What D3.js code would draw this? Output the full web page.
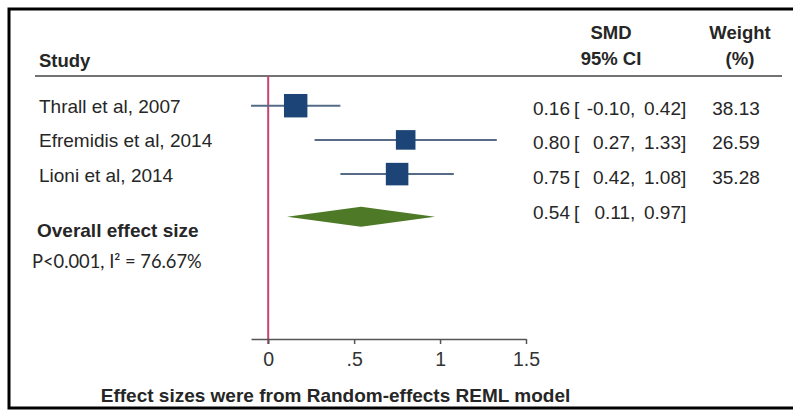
<html>
<head>
<meta charset="utf-8">
<script src="https://d3js.org/d3.v7.min.js"></script>
<style>
    body { margin: 0; background: #fff; }
    text { font-family: "Liberation Sans", Arial, sans-serif; fill: #262626; }
    .hdr { font-weight: bold; font-size: 18.5px; }
    .lab { font-size: 19px; }
    .ci { fill: none; stroke: #566c86; stroke-width: 2px; }
    .box { fill: #1d4476; }
    .diamond { fill: #4e7a27; }
    .nullline { stroke: #c8466e; stroke-width: 2px; }
    .axis path, .axis line { stroke: #555; stroke-width: 1.5px; }
    .axis text { font-family: "Liberation Sans", Arial, sans-serif; font-size: 19.5px; fill: #333; }
</style>
</head>
<body>
<svg width=793 height=413></svg>
<script>
    // data
    let studies = ['Thrall et al, 2007', 'Efremidis et al, 2014', 'Lioni et al, 2014'];
    let smd     = [0.16, 0.80, 0.75];
    let lower   = [-0.10, 0.27, 0.42];
    let upper   = [0.42, 1.33, 1.08];
    let weight  = [38.13, 26.59, 35.28];
    let overallSmd = 0.54, overallLower = 0.11, overallUpper = 0.97;
    let xTicks = [0, 0.5, 1, 1.5];
    let xTickLabels = ['0', '.5', '1', '1.5'];

    let svg = d3.select('svg');

    let x = d3.scaleLinear().domain([-0.1, 1.5]).range([251, 526]);
    let y = d3.scaleLinear().domain([0, 1]).range([105.7, 139.9]);
    let side = d3.scaleSqrt().domain([0, 40]).range([0, 24]);
    let overallRow = 3.25;
    let f2 = d => d3.format('.2f')(d).replace('\u2212', '-');

    // frame
    svg.append('rect')
        .attr('x', 9).attr('y', 9)
        .attr('width', 800).attr('height', 399)
        .attr('fill', 'none').attr('stroke', '#000').attr('stroke-width', 3);

    // headers
    svg.append('text').attr('class', 'hdr').attr('x', 39).attr('y', 67).text('Study');
    svg.append('text').attr('class', 'hdr').attr('x', 611).attr('y', 39).attr('text-anchor', 'middle').text('SMD');
    svg.append('text').attr('class', 'hdr').attr('x', 611).attr('y', 65).attr('text-anchor', 'middle').text('95% CI');
    svg.append('text').attr('class', 'hdr').attr('x', 740).attr('y', 39).attr('text-anchor', 'middle').text('Weight');
    svg.append('text').attr('class', 'hdr').attr('x', 740).attr('y', 65).attr('text-anchor', 'middle').text('(%)');
    svg.append('line')
        .attr('x1', 35).attr('x2', 782).attr('y1', 76).attr('y2', 76)
        .attr('stroke', '#444').attr('stroke-width', 1.5);

    // null line
    svg.append('line').attr('class', 'nullline')
        .attr('x1', x(0)).attr('x2', x(0))
        .attr('y1', 76).attr('y2', 344);

    // axis
    svg.append('g').attr('class', 'axis')
        .attr('transform', 'translate(0,339)')
        .call(d3.axisBottom(x).tickValues(xTicks)
            .tickFormat((d, i) => xTickLabels[i])
            .tickSize(5).tickSizeOuter(0).tickPadding(8));

    // study rows
    let rows = svg.selectAll('.row')
        .data(studies.map((s, i) => ({name: s, est: smd[i], lo: lower[i], hi: upper[i], w: weight[i], i: i})))
        .enter().append('g').attr('class', 'row');

    rows.append('text').attr('class', 'lab')
        .attr('x', 39).attr('y', d => y(d.i) + 7.5)
        .text(d => d.name);

    rows.append('line').attr('class', 'ci')
        .attr('x1', d => x(d.lo)).attr('x2', d => x(d.hi))
        .attr('y1', d => y(d.i)).attr('y2', d => y(d.i));

    rows.append('rect').attr('class', 'box')
        .attr('x', d => x(d.est) - side(d.w) / 2)
        .attr('y', d => y(d.i) - side(d.w) / 2)
        .attr('width', d => side(d.w))
        .attr('height', d => side(d.w));

    let ciText = function(g, yy, est, lo, hi) {
        g.append('text').attr('class', 'lab').attr('x', 533).attr('y', yy).text(f2(est));
        g.append('text').attr('class', 'lab').attr('x', 574).attr('y', yy).text('[');
        g.append('text').attr('class', 'lab').attr('x', 630).attr('y', yy).attr('text-anchor', 'end').text(f2(lo));
        g.append('text').attr('class', 'lab').attr('x', 630).attr('y', yy).text(',');
        g.append('text').attr('class', 'lab').attr('x', 681).attr('y', yy).attr('text-anchor', 'end').text(f2(hi));
        g.append('text').attr('class', 'lab').attr('x', 681).attr('y', yy).text(']');
    }

    rows.each(function(d) {
        let g = d3.select(this);
        ciText(g, y(d.i) + 9.5, d.est, d.lo, d.hi);
        g.append('text').attr('class', 'lab')
            .attr('x', 736).attr('y', y(d.i) + 9.5)
            .attr('text-anchor', 'middle')
            .text(f2(d.w));
    });

    // overall effect
    let oy = y(overallRow);
    svg.append('path').attr('class', 'diamond')
        .attr('d', 'M' + x(overallLower) + ',' + oy +
                   'L' + x(overallSmd) + ',' + (oy - 10) +
                   'L' + x(overallUpper) + ',' + oy +
                   'L' + x(overallSmd) + ',' + (oy + 10) + 'Z');
    ciText(svg.append('g'), oy + 2.5, overallSmd, overallLower, overallUpper);

    svg.append('text').attr('class', 'hdr').style('font-size', '19px')
        .attr('x', 37).attr('y', 237).text('Overall effect size');
    svg.append('text')
        .attr('x', 32).attr('y', 268)
        .style('font-family', 'Lato, "Open Sans", sans-serif').style('font-size', '18.3px')
        .text('P<0.001, I\u00b2 = 76.67%');

    // footer
    svg.append('text').attr('class', 'hdr').style('font-size', '19px')
        .attr('x', 335.5).attr('y', 402).attr('text-anchor', 'middle')
        .text('Effect sizes were from Random-effects REML model');
</script>
</body>
</html>
